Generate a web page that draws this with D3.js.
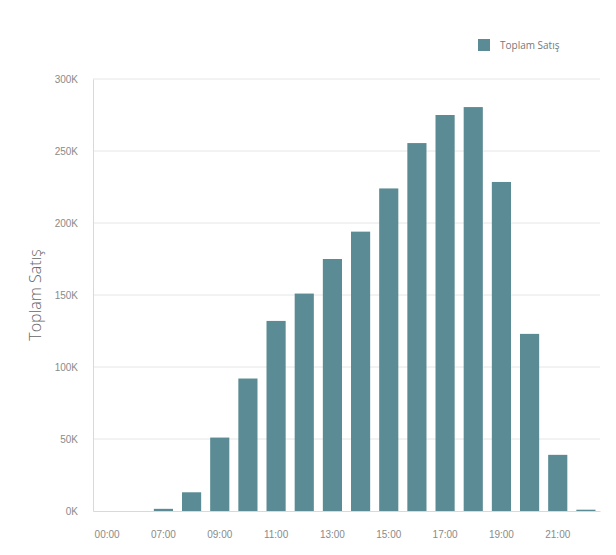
<!DOCTYPE html>
<html>
<head>
<meta charset="utf-8">
<script src="https://cdn.jsdelivr.net/npm/d3@7/dist/d3.min.js"></script>
<style>
  html, body { margin: 0; padding: 0; background: #fff; }
  svg { display: block; font-family: "Open Sans", "Noto Sans", sans-serif; }
</style>
</head>
<body>
<svg id="chart" width="616" height="555"></svg>
<script>
const categories = ["00:00","06:00","07:00","08:00","09:00","10:00","11:00","12:00","13:00","14:00","15:00","16:00","17:00","18:00","19:00","20:00","21:00","22:00"];
const values = [0, 0, 1500, 13000, 51000, 92000, 132000, 151000, 175000, 194000, 224000, 255500, 275000, 280500, 228500, 123000, 39000, 900];
const yTicks = [0, 50000, 100000, 150000, 200000, 250000, 300000];
const seriesName = "Toplam Satış";

const svg = d3.select("#chart");
const margin = {left: 93, right: 16, top: 79, bottom: 44};
const W = 616, H = 555;

const x = d3.scaleBand().domain(categories).range([margin.left, W - margin.right]).paddingInner(0.32).paddingOuter(0.16);
const y = d3.scaleLinear().domain([0, 300000]).range([H - margin.bottom, margin.top]);

// gridlines
svg.append("g").selectAll("line").data(yTicks.filter(d => d > 0)).join("line")
  .attr("x1", margin.left).attr("x2", W - margin.right)
  .attr("y1", d => y(d)).attr("y2", d => y(d))
  .attr("stroke", "#e6e6e6").attr("stroke-width", 1);

// bars
svg.append("g").selectAll("rect").data(values).join("rect")
  .attr("x", (d, i) => x(categories[i]))
  .attr("width", x.bandwidth())
  .attr("y", d => y(d))
  .attr("height", d => y(0) - y(d))
  .attr("fill", "#5b8b94");

// y axis
const yAxis = svg.append("g").attr("transform", `translate(${margin.left},0)`)
  .call(d3.axisLeft(y).tickValues(yTicks).tickSize(0).tickPadding(15).tickFormat(d => (d / 1000) + "K"));
yAxis.select(".domain").attr("stroke", "#d9d9d9");
yAxis.selectAll("text").attr("fill", "#8a8a8a").style("font-size", "10px");

// x axis
const xAxis = svg.append("g").attr("transform", `translate(0,${y(0)})`)
  .call(d3.axisBottom(x).tickSize(0).tickPadding(20).tickFormat((d, i) => (i % 2 === 0 ? d : "")));
xAxis.select(".domain").attr("stroke", "#d9d9d9");
xAxis.selectAll("text").attr("fill", "#8a8a8a").style("font-size", "10px");

// y title
svg.append("text")
  .attr("transform", `translate(41,${(margin.top + H - margin.bottom) / 2}) rotate(-90)`)
  .attr("text-anchor", "middle")
  .attr("fill", "#666")
  .style("font-size", "16px")
  .style("font-weight", "300")
  .text(seriesName);

// legend
const lg = svg.append("g").attr("transform", "translate(478,39)");
lg.append("rect").attr("width", 12).attr("height", 12).attr("fill", "#5b8b94");
lg.append("text").attr("x", 22).attr("y", 10).attr("fill", "#777").style("font-size", "10px").text(seriesName);
</script>
</body>
</html>
